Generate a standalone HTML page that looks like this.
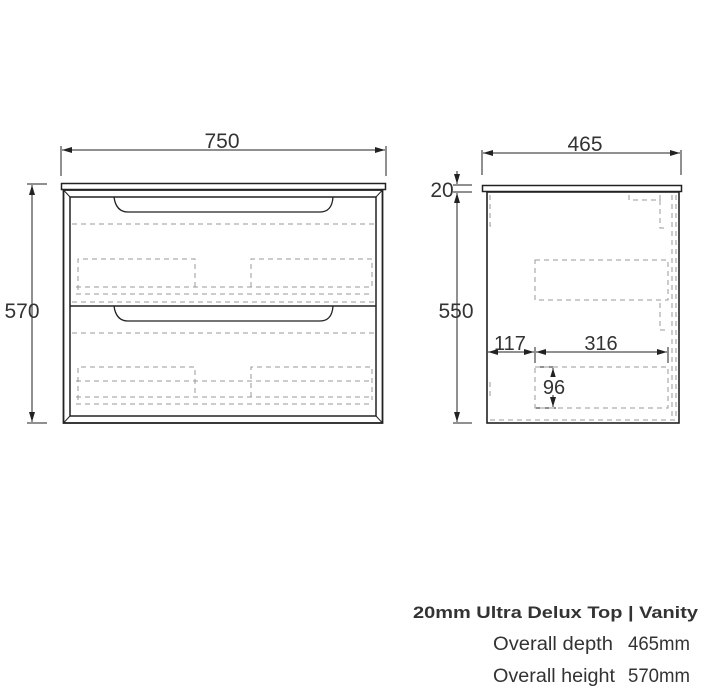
<!DOCTYPE html>
<html><head><meta charset="utf-8"><style>
body{margin:0;background:#fff;width:721px;height:700px;overflow:hidden}
svg{display:block}
text{font-family:"Liberation Sans",sans-serif;fill:#333}
</style></head><body>
<svg width="721" height="700" viewBox="0 0 721 700" xmlns="http://www.w3.org/2000/svg">
<defs>
<marker id="a" viewBox="0 0 10 6" refX="10" refY="3" markerWidth="10" markerHeight="6" orient="auto-start-reverse" markerUnits="userSpaceOnUse"><path d="M0,0 L10,3 L0,6 z" fill="#222"/></marker>
</defs>
<g stroke="#222" fill="none" stroke-width="1">
<line x1="61" y1="146" x2="61" y2="176"/><line x1="386" y1="146" x2="386" y2="176"/>
<line x1="62" y1="150" x2="385" y2="150" marker-start="url(#a)" marker-end="url(#a)"/>
<line x1="27" y1="184" x2="47" y2="184"/><line x1="27" y1="423" x2="47" y2="423"/>
<line x1="32" y1="185" x2="32" y2="422" marker-start="url(#a)" marker-end="url(#a)"/>
<rect x="61.5" y="183.5" width="324" height="6" stroke-width="1.5"/>
<rect x="63.5" y="190" width="319" height="233" stroke-width="1.8"/>
<rect x="70" y="197" width="306" height="219" stroke-width="1.5"/>
<line x1="63.5" y1="190" x2="70" y2="197"/><line x1="382.5" y1="190" x2="376" y2="197"/>
<line x1="63.5" y1="423" x2="70" y2="416"/><line x1="382.5" y1="423" x2="376" y2="416"/>
<line x1="70" y1="306" x2="376" y2="306" stroke-width="1.5"/>
<path d="M114,197 Q116,212 128,212 L320,212 Q332,212 333,197" stroke-width="1.3"/>
<path d="M114,306 Q116,321 128,321 L320,321 Q332,321 333,306" stroke-width="1.3"/>
</g>
<g stroke="#999" fill="none" stroke-width="1" stroke-dasharray="5,4">
<line x1="72" y1="224" x2="374" y2="224"/>
<line x1="72" y1="333" x2="374" y2="333"/>
<path d="M78,290 L78,259 L195,259 L195,287"/>
<path d="M251,287 L251,259 L372,259 L372,290"/>
<line x1="76" y1="287" x2="372" y2="287"/>
<line x1="76" y1="294" x2="372" y2="294"/>
<line x1="72" y1="302" x2="374" y2="302"/>
<path d="M78,400 L78,367 L195,367 L195,397"/>
<path d="M251,397 L251,367 L372,367 L372,400"/>
<line x1="76" y1="381" x2="372" y2="381"/>
<line x1="76" y1="397" x2="372" y2="397"/>
<line x1="76" y1="404" x2="372" y2="404"/>
</g>
<text x="222" y="148" font-size="21" text-anchor="middle">750</text>
<text x="22" y="318" font-size="21" text-anchor="middle">570</text>
<g stroke="#222" fill="none" stroke-width="1">
<line x1="482" y1="150" x2="482" y2="175"/><line x1="681" y1="150" x2="681" y2="175"/>
<line x1="483" y1="153" x2="680" y2="153" marker-start="url(#a)" marker-end="url(#a)"/>
<line x1="453" y1="185" x2="472" y2="185"/><line x1="453" y1="192" x2="472" y2="192"/>
<line x1="453" y1="423" x2="472" y2="423"/>
<line x1="457" y1="171" x2="457" y2="184" marker-end="url(#a)"/>
<line x1="457" y1="193" x2="457" y2="422" marker-start="url(#a)" marker-end="url(#a)"/>
<rect x="482.5" y="185.5" width="199" height="6" stroke-width="1.5"/>
<rect x="487" y="192" width="192" height="231" stroke-width="1.6"/>
<line x1="488" y1="352" x2="534" y2="352" marker-start="url(#a)" marker-end="url(#a)"/>
<line x1="536" y1="352" x2="667" y2="352" marker-start="url(#a)" marker-end="url(#a)"/>
<line x1="535" y1="347" x2="535" y2="363"/><line x1="668" y1="347" x2="668" y2="363"/>
<line x1="535" y1="367" x2="556" y2="367"/><line x1="535" y1="408" x2="556" y2="408"/>
<line x1="553" y1="368" x2="553" y2="407" marker-start="url(#a)" marker-end="url(#a)"/>
</g>
<g stroke="#999" fill="none" stroke-width="1" stroke-dasharray="5,4">
<rect x="535" y="260" width="133" height="40"/>
<path d="M535,367 L668,367 L668,408 L535,408 Z"/>
<path d="M490,195 L490,226 L494,226"/>
<path d="M629,195 L629,200 L660,200 L660,195"/>
<path d="M660,200 L660,228 L668,228"/>
<path d="M660,303 L660,330 L668,330"/>
<line x1="676" y1="195" x2="676" y2="420"/>
<line x1="672" y1="195" x2="672" y2="420"/>
<line x1="490" y1="420" x2="676" y2="420"/>
<path d="M490,382 L490,400"/>
</g>
<text x="585" y="151" font-size="21" text-anchor="middle">465</text>
<text x="442" y="197" font-size="21" text-anchor="middle">20</text>
<text x="456" y="318" font-size="21" text-anchor="middle">550</text>
<text x="510" y="350" font-size="20" text-anchor="middle">117</text>
<text x="601" y="350" font-size="20" text-anchor="middle">316</text>
<rect x="541" y="377" width="25" height="18" fill="#fff"/>
<text x="554" y="394" font-size="20" text-anchor="middle">96</text>
<text x="413" y="618" font-size="17" font-weight="bold" fill="#111" textLength="285" lengthAdjust="spacingAndGlyphs">20mm Ultra Delux Top | Vanity</text>
<text x="493" y="650" font-size="19" textLength="120" lengthAdjust="spacingAndGlyphs">Overall depth</text>
<text x="628" y="650" font-size="19" textLength="62" lengthAdjust="spacingAndGlyphs">465mm</text>
<text x="493" y="682" font-size="19" textLength="122" lengthAdjust="spacingAndGlyphs">Overall height</text>
<text x="628" y="682" font-size="19" textLength="62" lengthAdjust="spacingAndGlyphs">570mm</text>
</svg>
</body></html>
